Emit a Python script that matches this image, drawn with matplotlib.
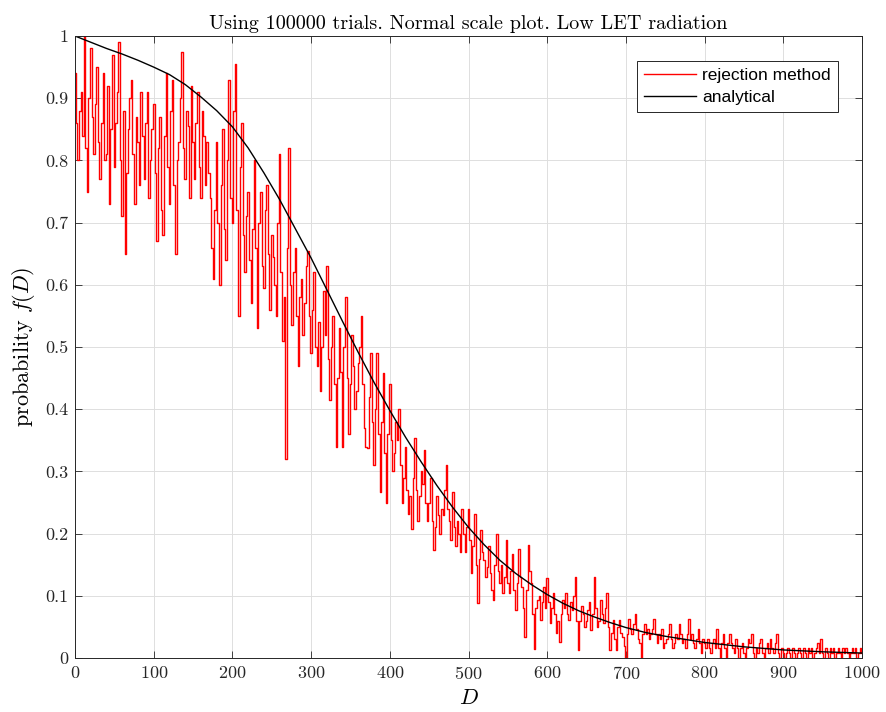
import numpy as np
import matplotlib
matplotlib.use('Agg')
import matplotlib.pyplot as plt
from matplotlib.ticker import FormatStrFormatter

# rejection method samples (every 2 units of D)
red_a = [0.94, 0.86, 0.80, 0.88, 0.91, 0.84, 1.00, 0.82, 0.75, 0.90,
         0.98, 0.87, 0.81, 0.89, 0.95, 0.83, 0.77, 0.86, 0.94, 0.80,
         0.81, 0.92, 0.73, 0.85, 0.97, 0.79, 0.86, 0.91, 0.99, 0.80,
         0.71, 0.88, 0.65, 0.78, 0.85, 0.90, 0.93, 0.81, 0.73, 0.87,
         0.83, 0.76, 0.91, 0.84, 0.77, 0.86, 0.91, 0.74, 0.80, 0.85,
         0.89, 0.78, 0.67, 0.82, 0.87, 0.72, 0.68, 0.84, 0.94, 0.79,
         0.73, 0.88, 0.93, 0.76, 0.65, 0.80, 0.83, 0.90, 0.975, 0.82,
         0.77, 0.88, 0.855, 0.74, 0.92, 0.83, 0.77, 0.86, 0.91, 0.79,
         0.74, 0.88, 0.84, 0.76, 0.83]
red_b = [0.78, 0.74, 0.66, 0.61, 0.72, 0.83, 0.70, 0.60, 0.76, 0.85,
         0.69, 0.64, 0.80, 0.93, 0.74, 0.70, 0.88, 0.955, 0.72, 0.55,
         0.79, 0.86, 0.68, 0.62, 0.71, 0.75, 0.64, 0.57, 0.69, 0.80,
         0.66, 0.53, 0.70, 0.75, 0.63, 0.595, 0.72, 0.76, 0.65, 0.56,
         0.68, 0.645, 0.60, 0.55, 0.70, 0.81, 0.62, 0.51, 0.58, 0.32,
         0.66, 0.82, 0.60, 0.535, 0.62, 0.66, 0.55, 0.47, 0.58, 0.61,
         0.52, 0.57, 0.63, 0.655, 0.55, 0.49, 0.56, 0.62, 0.50, 0.47,
         0.54, 0.43, 0.50, 0.59, 0.52, 0.63, 0.48, 0.415, 0.50, 0.55,
         0.44, 0.34, 0.45, 0.53]
red_c = [0.46, 0.34, 0.50, 0.58, 0.45, 0.36, 0.44, 0.52, 0.47, 0.40,
         0.43, 0.474, 0.50, 0.55, 0.44, 0.37, 0.34, 0.337, 0.42, 0.49,
         0.38, 0.31, 0.40, 0.49, 0.36, 0.267, 0.38, 0.458, 0.33, 0.25,
         0.36, 0.44, 0.35, 0.30, 0.33, 0.38, 0.35, 0.40, 0.31, 0.25,
         0.29, 0.34, 0.27, 0.232, 0.26, 0.208, 0.29, 0.353, 0.27, 0.22,
         0.26, 0.30, 0.28, 0.334, 0.25, 0.22, 0.25, 0.29, 0.22, 0.174,
         0.21, 0.26, 0.23, 0.20, 0.24, 0.23, 0.27, 0.31, 0.24, 0.22,
         0.19, 0.267, 0.21, 0.18, 0.22, 0.20, 0.17, 0.24, 0.20, 0.17,
         0.21, 0.24]
red_d = [0.19, 0.136, 0.18, 0.232, 0.15, 0.088, 0.16, 0.206, 0.17, 0.157,
         0.13, 0.147, 0.18, 0.136, 0.11, 0.093, 0.15, 0.20, 0.14, 0.12,
         0.15, 0.104, 0.13, 0.19, 0.12, 0.104, 0.14, 0.168, 0.11, 0.077,
         0.12, 0.175, 0.13, 0.115, 0.08, 0.034, 0.11, 0.182, 0.14, 0.12,
         0.07, 0.015, 0.08, 0.093, 0.10, 0.061, 0.09, 0.115, 0.08, 0.128,
         0.09, 0.056, 0.08, 0.104, 0.07, 0.040, 0.06, 0.026, 0.07, 0.093,
         0.08, 0.104, 0.07, 0.061, 0.09, 0.077, 0.10, 0.13, 0.06, 0.013,
         0.06, 0.083, 0.07, 0.050, 0.06, 0.077, 0.09, 0.045, 0.07, 0.13,
         0.08, 0.050, 0.06, 0.093, 0.07, 0.056, 0.08, 0.104, 0.05, 0.013,
         0.04, 0.061, 0.03, 0.013, 0.05, 0.061, 0.04, 0.034, 0.02, 0.0]
red_e = [0.039, 0.063, 0.047, 0.039, 0.055, 0.071, 0.047, 0.031, 0.024, 0.0,
         0.039, 0.055, 0.039, 0.047, 0.031, 0.039, 0.047, 0.063, 0.039, 0.024,
         0.039, 0.031, 0.047, 0.016, 0.024, 0.031, 0.039, 0.055, 0.031, 0.016,
         0.024, 0.039, 0.031, 0.055, 0.039, 0.024, 0.031, 0.016, 0.039, 0.063,
         0.031, 0.039, 0.024, 0.016, 0.031, 0.047, 0.024, 0.008, 0.031, 0.024,
         0.016, 0.031, 0.016, 0.008, 0.024, 0.031, 0.016, 0.047, 0.016, 0.0,
         0.024, 0.039, 0.016, 0.0, 0.024, 0.039, 0.024, 0.016, 0.008, 0.031,
         0.016, 0.0, 0.016, 0.024, 0.008, 0.0, 0.016, 0.031, 0.024, 0.039,
         0.008, 0.0, 0.016, 0.008, 0.024, 0.031, 0.008, 0.0, 0.016, 0.024,
         0.008, 0.031, 0.016, 0.008, 0.024, 0.039, 0.008, 0.0, 0.016, 0.008,
         0.0, 0.008, 0.016, 0.008, 0.0, 0.016, 0.008, 0.0, 0.008, 0.016,
         0.008, 0.0, 0.016, 0.008, 0.0, 0.016, 0.008, 0.016, 0.0, 0.008,
         0.016, 0.024, 0.008, 0.031, 0.008, 0.0, 0.016, 0.008, 0.0, 0.016,
         0.008, 0.016, 0.0, 0.008, 0.016, 0.008, 0.0, 0.016, 0.008, 0.016,
         0.008, 0.0, 0.008, 0.016, 0.008, 0.016, 0.0, 0.008, 0.016, 0.008]
red_f = np.array(red_a + red_b + red_c + red_d + red_e)
red_D = np.linspace(0, 1000, len(red_f))

# analytical curve
ana_D = [0, 20, 40, 60, 80, 100, 120, 140, 160, 180, 200, 220, 240, 260,
         280, 300, 320, 340, 360, 380, 400, 420, 440, 460, 480, 500, 520,
         540, 560, 580, 600, 620, 640, 660, 680, 700, 725, 750, 775, 800,
         850, 900, 950, 1000]
ana_f = [1.0, 0.99, 0.98, 0.971, 0.961, 0.950, 0.938, 0.922, 0.902, 0.880,
         0.854, 0.82, 0.78, 0.737, 0.69, 0.643, 0.592, 0.541, 0.491, 0.443,
         0.398, 0.355, 0.315, 0.277, 0.242, 0.21, 0.182, 0.157, 0.136, 0.118,
         0.102, 0.088, 0.076, 0.066, 0.057, 0.049, 0.041, 0.035, 0.030, 0.025,
         0.018, 0.013, 0.010, 0.008]

plt.rcParams['mathtext.fontset'] = 'cm'
plt.rcParams['axes.formatter.use_mathtext'] = True

fig = plt.figure(figsize=(8.86, 7.12), dpi=100)
ax = fig.add_axes([0.0847, 0.0758, 0.8882, 0.8736])

ax.plot(red_D, red_f, color=(1, 0, 0), lw=1.0, drawstyle='steps-mid',
        label='rejection method')
ax.plot(ana_D, ana_f, color='black', lw=1.0, label='analytical')

ax.set_xlim(0, 1000)
ax.set_ylim(0, 1)
ax.set_xticks(np.arange(0, 1001, 100))
ax.set_yticks(np.arange(0, 1.01, 0.1))
ax.yaxis.set_major_formatter(FormatStrFormatter('%g'))
for lab in ax.get_xticklabels() + ax.get_yticklabels():
    lab.set_fontfamily('cmr10')
    lab.set_fontsize(13)
ax.tick_params(direction='in', top=True, right=True, length=5, width=0.6,
               colors='0.15', pad=5)
ax.grid(True, color='0.87', lw=0.7)
ax.set_axisbelow(True)
for s in ax.spines.values():
    s.set_color('0.15')
    s.set_linewidth(0.7)

ax.set_title('Using 100000 trials. Normal scale plot. Low LET radiation',
             fontfamily='cmr10', fontsize=14.5, pad=5)
ax.set_xlabel('$D$', fontsize=16, labelpad=4)
ax.set_ylabel('probability $f(D)$', fontfamily='cmr10', fontsize=16, labelpad=6)

leg = ax.legend(loc='upper right', bbox_to_anchor=(0.9695, 0.9598),
                borderaxespad=0, fancybox=False, framealpha=1,
                edgecolor='0.15', handlelength=3.0, handletextpad=0.35,
                prop={'family': 'Liberation Sans', 'size': 12.5},
                borderpad=0.4, labelspacing=0.4)
leg.get_frame().set_linewidth(0.7)

fig.savefig('out.png', dpi=100)
